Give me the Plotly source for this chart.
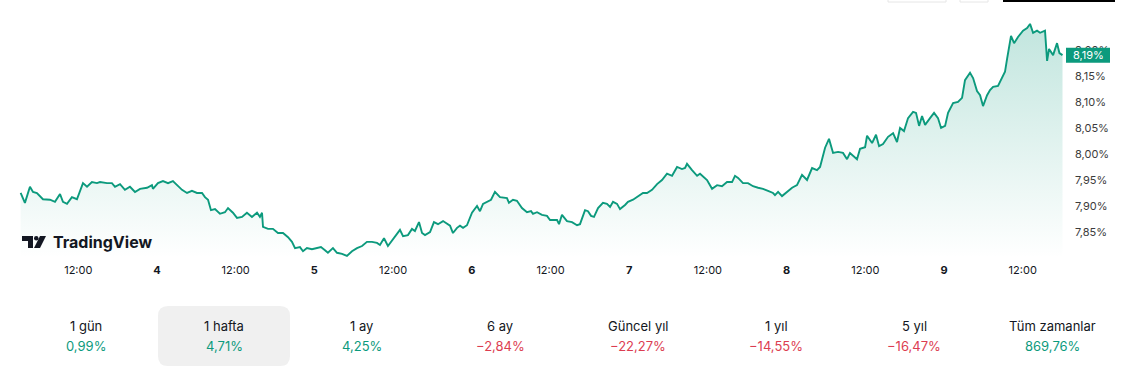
import plotly.graph_objects as go
import pandas as pd

# ---------------- data ----------------
month_prefix = "2024-10-"
times = [
    "03 03:13", "03 03:52", "03 04:38", "03 05:06", "03 05:42", "03 06:37", "03 07:41", "03 08:27",
    "03 09:13", "03 09:40", "03 10:17", "03 11:02", "03 11:48", "03 12:43", "03 13:20", "03 14:05",
    "03 14:51", "03 15:19", "03 16:23", "03 17:08", "03 17:36", "03 18:22", "03 19:07", "03 19:53",
    "03 20:39", "03 21:25", "03 22:29", "03 23:14", "03 23:23", "04 00:09", "04 00:55", "04 01:41",
    "04 02:26", "04 03:12", "04 03:49", "04 04:35", "04 05:20", "04 06:06", "04 06:52", "04 07:19",
    "04 07:47", "04 08:14", "04 08:51", "04 09:36", "04 10:22", "04 10:50", "04 11:35", "04 12:12",
    "04 12:58", "04 13:43", "04 14:29", "04 15:15", "04 15:42", "04 16:01", "04 16:10", "04 16:56",
    "04 17:41", "04 18:27", "04 19:13", "04 19:59", "04 20:35", "04 21:03", "04 21:48", "04 22:16",
    "04 22:52", "04 23:38", "05 00:24", "05 01:00", "05 01:37", "05 02:04", "05 02:50", "05 03:27",
    "05 04:13", "05 04:58", "05 05:44", "05 06:30", "05 07:16", "05 08:01", "05 08:47", "05 09:33",
    "05 10:00", "05 10:37", "05 11:13", "05 11:59", "05 13:03", "05 13:31", "05 14:16", "05 14:53",
    "05 15:20", "05 15:57", "05 16:25", "05 16:52", "05 17:38", "05 18:14", "05 18:51", "05 19:37",
    "05 20:41", "05 21:08", "05 21:45", "05 22:12", "05 22:40", "05 23:16", "06 00:02", "06 00:48",
    "06 01:15", "06 01:43", "06 02:19", "06 02:56", "06 03:32", "06 04:18", "06 05:22", "06 05:40",
    "06 06:17", "06 06:53", "06 07:39", "06 08:25", "06 09:02", "06 09:20", "06 09:57", "06 10:42",
    "06 11:28", "06 11:56", "06 13:00", "06 13:18", "06 13:45", "06 14:31", "06 15:17", "06 16:03",
    "06 16:30", "06 17:16", "06 17:43", "06 18:11", "06 18:38", "06 19:15", "06 20:00", "06 20:37",
    "06 21:05", "06 21:32", "06 22:09", "06 22:36", "06 23:22", "06 23:49", "07 00:35", "07 01:21",
    "07 02:06", "07 02:43", "07 03:29", "07 04:15", "07 05:00", "07 05:46", "07 06:32", "07 07:18",
    "07 08:03", "07 08:31", "07 08:49", "07 09:35", "07 10:21", "07 10:48", "07 11:16", "07 11:52",
    "07 12:38", "07 13:24", "07 14:09", "07 14:55", "07 15:41", "07 16:08", "07 16:36", "07 17:21",
    "07 18:07", "07 18:53", "07 19:39", "07 20:24", "07 21:10", "07 21:56", "07 22:14", "07 22:42",
    "07 23:18", "08 00:04", "08 00:50", "08 01:35", "08 02:21", "08 03:07", "08 03:53", "08 04:38",
    "08 05:06", "08 05:52", "08 06:28", "08 07:05", "08 07:51", "08 08:36", "08 09:13", "08 09:40",
    "08 10:44", "08 11:12", "08 11:58", "08 12:16", "08 13:02", "08 13:38", "08 14:06", "08 14:42",
    "08 15:28", "08 16:14", "08 16:50", "08 17:18", "08 17:54", "08 18:31", "08 19:17", "08 19:44",
    "08 20:12", "08 20:39", "08 21:07", "08 21:52", "08 22:29", "08 23:05", "08 23:33", "09 00:10",
    "09 00:37", "09 01:23", "09 02:08", "09 02:45", "09 03:12", "09 03:58", "09 04:26", "09 05:02",
    "09 05:30", "09 05:57", "09 06:34", "09 07:01", "09 07:29", "09 08:14", "09 08:42", "09 09:18",
    "09 09:37", "09 10:13", "09 10:41", "09 11:17", "09 12:03", "09 12:40", "09 13:07", "09 13:35",
    "09 14:11", "09 14:39", "09 15:24", "09 15:43", "09 16:01", "09 16:38", "09 17:14", "09 17:36",
    "09 18:04",
]
yields = [
    7.925, 7.906, 7.937, 7.927, 7.925, 7.913, 7.912, 7.908,
    7.923, 7.908, 7.904, 7.917, 7.913, 7.944, 7.937, 7.946,
    7.944, 7.946, 7.944, 7.944, 7.937, 7.942, 7.931, 7.937,
    7.927, 7.933, 7.935, 7.940, 7.933, 7.944, 7.948, 7.944,
    7.948, 7.938, 7.931, 7.925, 7.929, 7.925, 7.925, 7.917,
    7.912, 7.892, 7.894, 7.885, 7.888, 7.896, 7.887, 7.877,
    7.879, 7.887, 7.879, 7.887, 7.879, 7.887, 7.860, 7.856,
    7.856, 7.848, 7.848, 7.840, 7.831, 7.819, 7.821, 7.813,
    7.819, 7.817, 7.819, 7.821, 7.815, 7.810, 7.819, 7.810,
    7.808, 7.804, 7.813, 7.819, 7.823, 7.831, 7.831, 7.829,
    7.825, 7.838, 7.823, 7.837, 7.854, 7.842, 7.844, 7.856,
    7.852, 7.869, 7.848, 7.844, 7.850, 7.869, 7.865, 7.871,
    7.862, 7.848, 7.858, 7.862, 7.858, 7.863, 7.887, 7.900,
    7.890, 7.904, 7.908, 7.912, 7.927, 7.917, 7.915, 7.906,
    7.912, 7.910, 7.896, 7.888, 7.890, 7.885, 7.888, 7.883,
    7.881, 7.873, 7.873, 7.865, 7.883, 7.871, 7.869, 7.863,
    7.865, 7.892, 7.890, 7.881, 7.879, 7.896, 7.906, 7.904,
    7.898, 7.908, 7.904, 7.894, 7.902, 7.908, 7.912, 7.919,
    7.925, 7.925, 7.931, 7.942, 7.950, 7.962, 7.958, 7.975,
    7.971, 7.973, 7.981, 7.969, 7.958, 7.962, 7.956, 7.950,
    7.933, 7.940, 7.938, 7.946, 7.946, 7.958, 7.954, 7.944,
    7.944, 7.938, 7.935, 7.933, 7.929, 7.925, 7.921, 7.927,
    7.919, 7.927, 7.935, 7.940, 7.960, 7.950, 7.973, 7.969,
    7.975, 8.012, 8.029, 8.002, 8.004, 8.002, 7.990, 8.002,
    7.990, 8.010, 8.013, 8.035, 8.021, 8.037, 8.015, 8.019,
    8.033, 8.040, 8.023, 8.050, 8.044, 8.069, 8.081, 8.079,
    8.054, 8.073, 8.056, 8.069, 8.079, 8.069, 8.050, 8.054,
    8.079, 8.098, 8.100, 8.108, 8.142, 8.156, 8.146, 8.121,
    8.113, 8.092, 8.113, 8.123, 8.129, 8.131, 8.142, 8.158,
    8.183, 8.227, 8.213, 8.225, 8.237, 8.242, 8.250, 8.233,
    8.237, 8.233, 8.237, 8.179, 8.202, 8.190, 8.213, 8.194,
    8.190,
]

y_ticks = [7.85, 7.90, 7.95, 8.00, 8.05, 8.10, 8.15, 8.20]
x_tick_times = ["03 12:00", "04 00:00", "04 12:00", "05 00:00", "05 12:00", "06 00:00", "06 12:00",
                "07 00:00", "07 12:00", "08 00:00", "08 12:00", "09 00:00", "09 12:00"]
x_tick_labels = ["12:00", "<b>4</b>", "12:00", "<b>5</b>", "12:00", "<b>6</b>", "12:00",
                 "<b>7</b>", "12:00", "<b>8</b>", "12:00", "<b>9</b>", "12:00"]
last_label = "8,19%"

periods = ["1 gün", "1 hafta", "1 ay", "6 ay", "Güncel yıl", "1 yıl", "5 yıl", "Tüm zamanlar"]
changes = ["0,99%", "4,71%", "4,25%", "−2,84%", "−22,27%", "−14,55%", "−16,47%", "869,76%"]
positive = [True, True, True, False, False, False, False, True]

# ---------------- styling ----------------
W, H = 1140, 369
PLOT_R = 1066          # right edge of plot area (px)
PLOT_B = 258           # bottom of plot area (px)
GREEN = "#0c9a7d"
RED = "#dc3d51"
TXT = "#131722"
FONT = "Inter, Roboto, sans-serif"


def px(x):
    return x / PLOT_R


def py(y):
    return (PLOT_B - y) / PLOT_B


t = pd.to_datetime([month_prefix + s for s in times])
tick_t = pd.to_datetime([month_prefix + s for s in x_tick_times])

fig = go.Figure()
fig.add_trace(go.Scatter(
    x=t, y=yields, mode="lines",
    line=dict(color=GREEN, width=1.9),
    fill="tozeroy",
    fillgradient=dict(type="vertical",
                      colorscale=[[0, "rgba(12,154,125,0.0)"], [1, "rgba(12,154,125,0.26)"]],
                      start=7.80, stop=8.26),
    hoverinfo="skip", showlegend=False,
))

shapes = []
# selected period highlight box (rounded)
x0, x1, y0, y1, r = 158, 290, 306, 366, 10
path = (f"M {px(x0 + r)},{py(y0)} L {px(x1 - r)},{py(y0)} Q {px(x1)},{py(y0)} {px(x1)},{py(y0 + r)} "
        f"L {px(x1)},{py(y1 - r)} Q {px(x1)},{py(y1)} {px(x1 - r)},{py(y1)} "
        f"L {px(x0 + r)},{py(y1)} Q {px(x0)},{py(y1)} {px(x0)},{py(y1 - r)} "
        f"L {px(x0)},{py(y0 + r)} Q {px(x0)},{py(y0)} {px(x0 + r)},{py(y0)} Z")
shapes.append(dict(type="path", xref="paper", yref="paper", path=path,
                   fillcolor="#f0f0f0", line=dict(width=0), layer="below"))

# cut-off buttons at the top
for bx0, bx1 in [(888, 946), (960, 988)]:
    shapes.append(dict(type="rect", xref="paper", yref="paper",
                       x0=px(bx0), x1=px(bx1), y0=py(2), y1=py(-20),
                       line=dict(color="#e6e6e6", width=1), fillcolor="white"))
shapes.append(dict(type="rect", xref="paper", yref="paper",
                   x0=px(1003), x1=px(1115), y0=py(2), y1=py(-20),
                   line=dict(color="#000", width=0), fillcolor="#000"))

# last-value label box on the price scale
half = 7.5 / 520
shapes.append(dict(type="rect", xref="paper", yref="y",
                   x0=1.0, x1=px(1110), y0=yields[-1] - half, y1=yields[-1] + half,
                   fillcolor=GREEN, line=dict(width=0), layer="above"))

# TradingView logo
shapes.append(dict(type="path", xref="paper", yref="paper",
                   path=f"M {px(22)},{py(236)} L {px(33)},{py(236)} L {px(33)},{py(248)} L {px(28)},{py(248)} "
                        f"L {px(28)},{py(241)} L {px(22)},{py(241)} Z",
                   fillcolor=TXT, line=dict(width=0)))
shapes.append(dict(type="circle", xref="paper", yref="paper",
                   x0=px(34), x1=px(38.5), y0=py(240.5), y1=py(236),
                   fillcolor=TXT, line=dict(width=0)))
shapes.append(dict(type="path", xref="paper", yref="paper",
                   path=f"M {px(40)},{py(236)} L {px(46)},{py(236)} L {px(40)},{py(248)} L {px(34)},{py(248)} Z",
                   fillcolor=TXT, line=dict(width=0)))

annotations = [
    dict(text="<b>TradingView</b>", xref="paper", yref="paper", x=px(51), y=py(242),
         xanchor="left", yanchor="middle", showarrow=False,
         font=dict(family=FONT, size=16, color=TXT)),
    dict(text=last_label, xref="paper", yref="y", x=px(1088), y=yields[-1],
         xanchor="center", yanchor="middle", showarrow=False,
         font=dict(family=FONT, size=11, color="white")),
]

col0, step = 86, 138
for i, (p, c, pos) in enumerate(zip(periods, changes, positive)):
    cx = col0 + step * i
    annotations.append(dict(text=p, xref="paper", yref="paper", x=px(cx), y=py(326),
                            xanchor="center", yanchor="middle", showarrow=False,
                            font=dict(family=FONT, size=13, color=TXT)))
    annotations.append(dict(text=c, xref="paper", yref="paper", x=px(cx), y=py(346),
                            xanchor="center", yanchor="middle", showarrow=False,
                            font=dict(family=FONT, size=13, color=GREEN if pos else RED)))

fig.update_layout(
    width=W, height=H,
    margin=dict(l=0, r=W - PLOT_R, t=0, b=H - PLOT_B),
    paper_bgcolor="white", plot_bgcolor="white",
    font=dict(family=FONT, color=TXT),
    shapes=shapes, annotations=annotations,
    xaxis=dict(
        range=[pd.Timestamp(month_prefix + "03 00:04"), pd.Timestamp(month_prefix + "09 18:36")],
        tickvals=tick_t, ticktext=x_tick_labels,
        showgrid=False, zeroline=False, showline=False, ticks="",
        tickfont=dict(family=FONT, size=11, color=TXT),
        ticklabelstandoff=4,
        fixedrange=True,
    ),
    yaxis=dict(
        side="right", range=[7.80, 8.296],
        tickvals=y_ticks, ticktext=[f"{v:.2f}".replace(".", ",") + "%" for v in y_ticks],
        showgrid=False, zeroline=False, showline=False, ticks="",
        tickfont=dict(family=FONT, size=11, color="#3c3c3c"),
        ticklabelstandoff=8,
        fixedrange=True,
    ),
)

fig.write_html("out.html", config={"displayModeBar": False},
               post_script="document.body.style.margin='0';document.body.style.overflow='hidden';")
